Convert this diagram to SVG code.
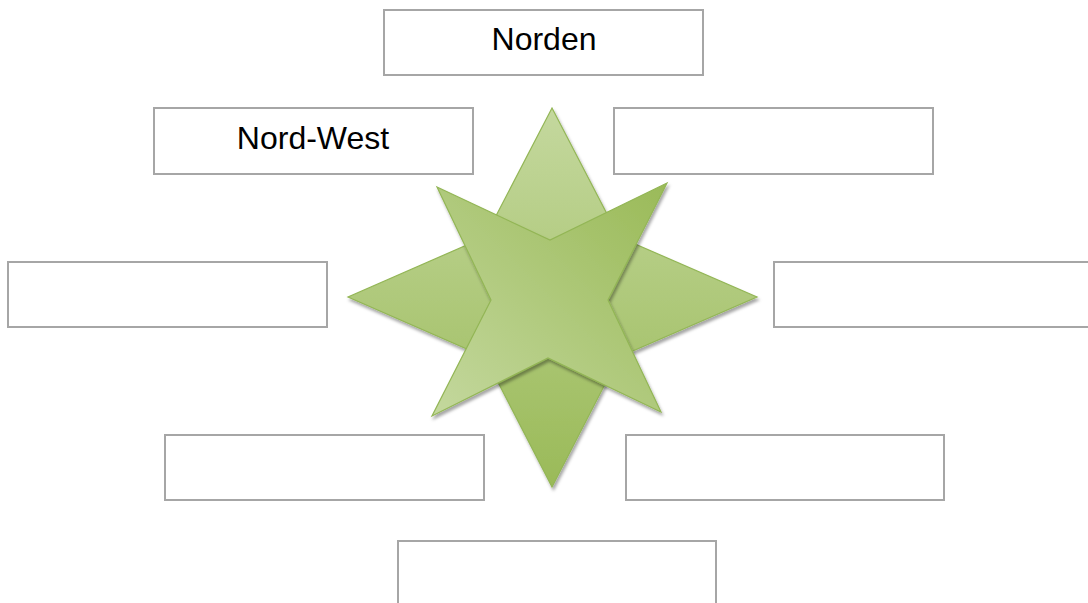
<svg xmlns="http://www.w3.org/2000/svg" width="1088" height="603" viewBox="0 0 1088 603">
<defs>
<style>
.box{fill:#ffffff;stroke:#a6a6a6;stroke-width:2}
.lbl{font-family:"Liberation Sans",Arial,sans-serif;font-size:32px;fill:#000000;text-anchor:middle}
.star{stroke:#93b656;stroke-width:1.2;stroke-linejoin:miter}
</style>
<linearGradient id="gBack" x1="0" y1="0" x2="0" y2="1">
<stop offset="0" stop-color="#c4d89e"/>
<stop offset="1" stop-color="#9aba58"/>
</linearGradient>
<linearGradient id="gFront" x1="0" y1="1" x2="1" y2="0">
<stop offset="0" stop-color="#c4d89e"/>
<stop offset="1" stop-color="#9aba58"/>
</linearGradient>
<filter id="sh" x="-10%" y="-10%" width="120%" height="120%">
<feDropShadow dx="1.5" dy="3" stdDeviation="1.5" flood-color="#000000" flood-opacity="0.35"/>
</filter>
</defs>
<rect width="1088" height="603" fill="#ffffff"/>
<g id="star">
<polygon class="star" fill="url(#gBack)" filter="url(#sh)" points="552,108 619,237 757,297 619,357 552,487 485,357 348,297 485,237"/>
<polygon class="star" fill="url(#gFront)" filter="url(#sh)" points="437,187 550,240 667,183 608,300 661,412 548,358 432,416 491,300"/>
</g>
<g id="norden"><rect class="box" x="384" y="10" width="319" height="65"/><text class="lbl" x="544" y="50">Norden</text></g>
<g id="nordwest"><rect class="box" x="154" y="108" width="319" height="66"/><text class="lbl" x="313" y="149">Nord-West</text></g>
<g id="nordost"><rect class="box" x="614" y="108" width="319" height="66"/></g>
<g id="west"><rect class="box" x="8" y="262" width="319" height="65"/></g>
<g id="ost"><rect class="box" x="774" y="262" width="320" height="65"/></g>
<g id="suedwest"><rect class="box" x="165" y="435" width="319" height="65"/></g>
<g id="suedost"><rect class="box" x="626" y="435" width="318" height="65"/></g>
<g id="sueden"><rect class="box" x="398" y="541" width="318" height="70"/></g>
<g id="connectors"></g>
</svg>
